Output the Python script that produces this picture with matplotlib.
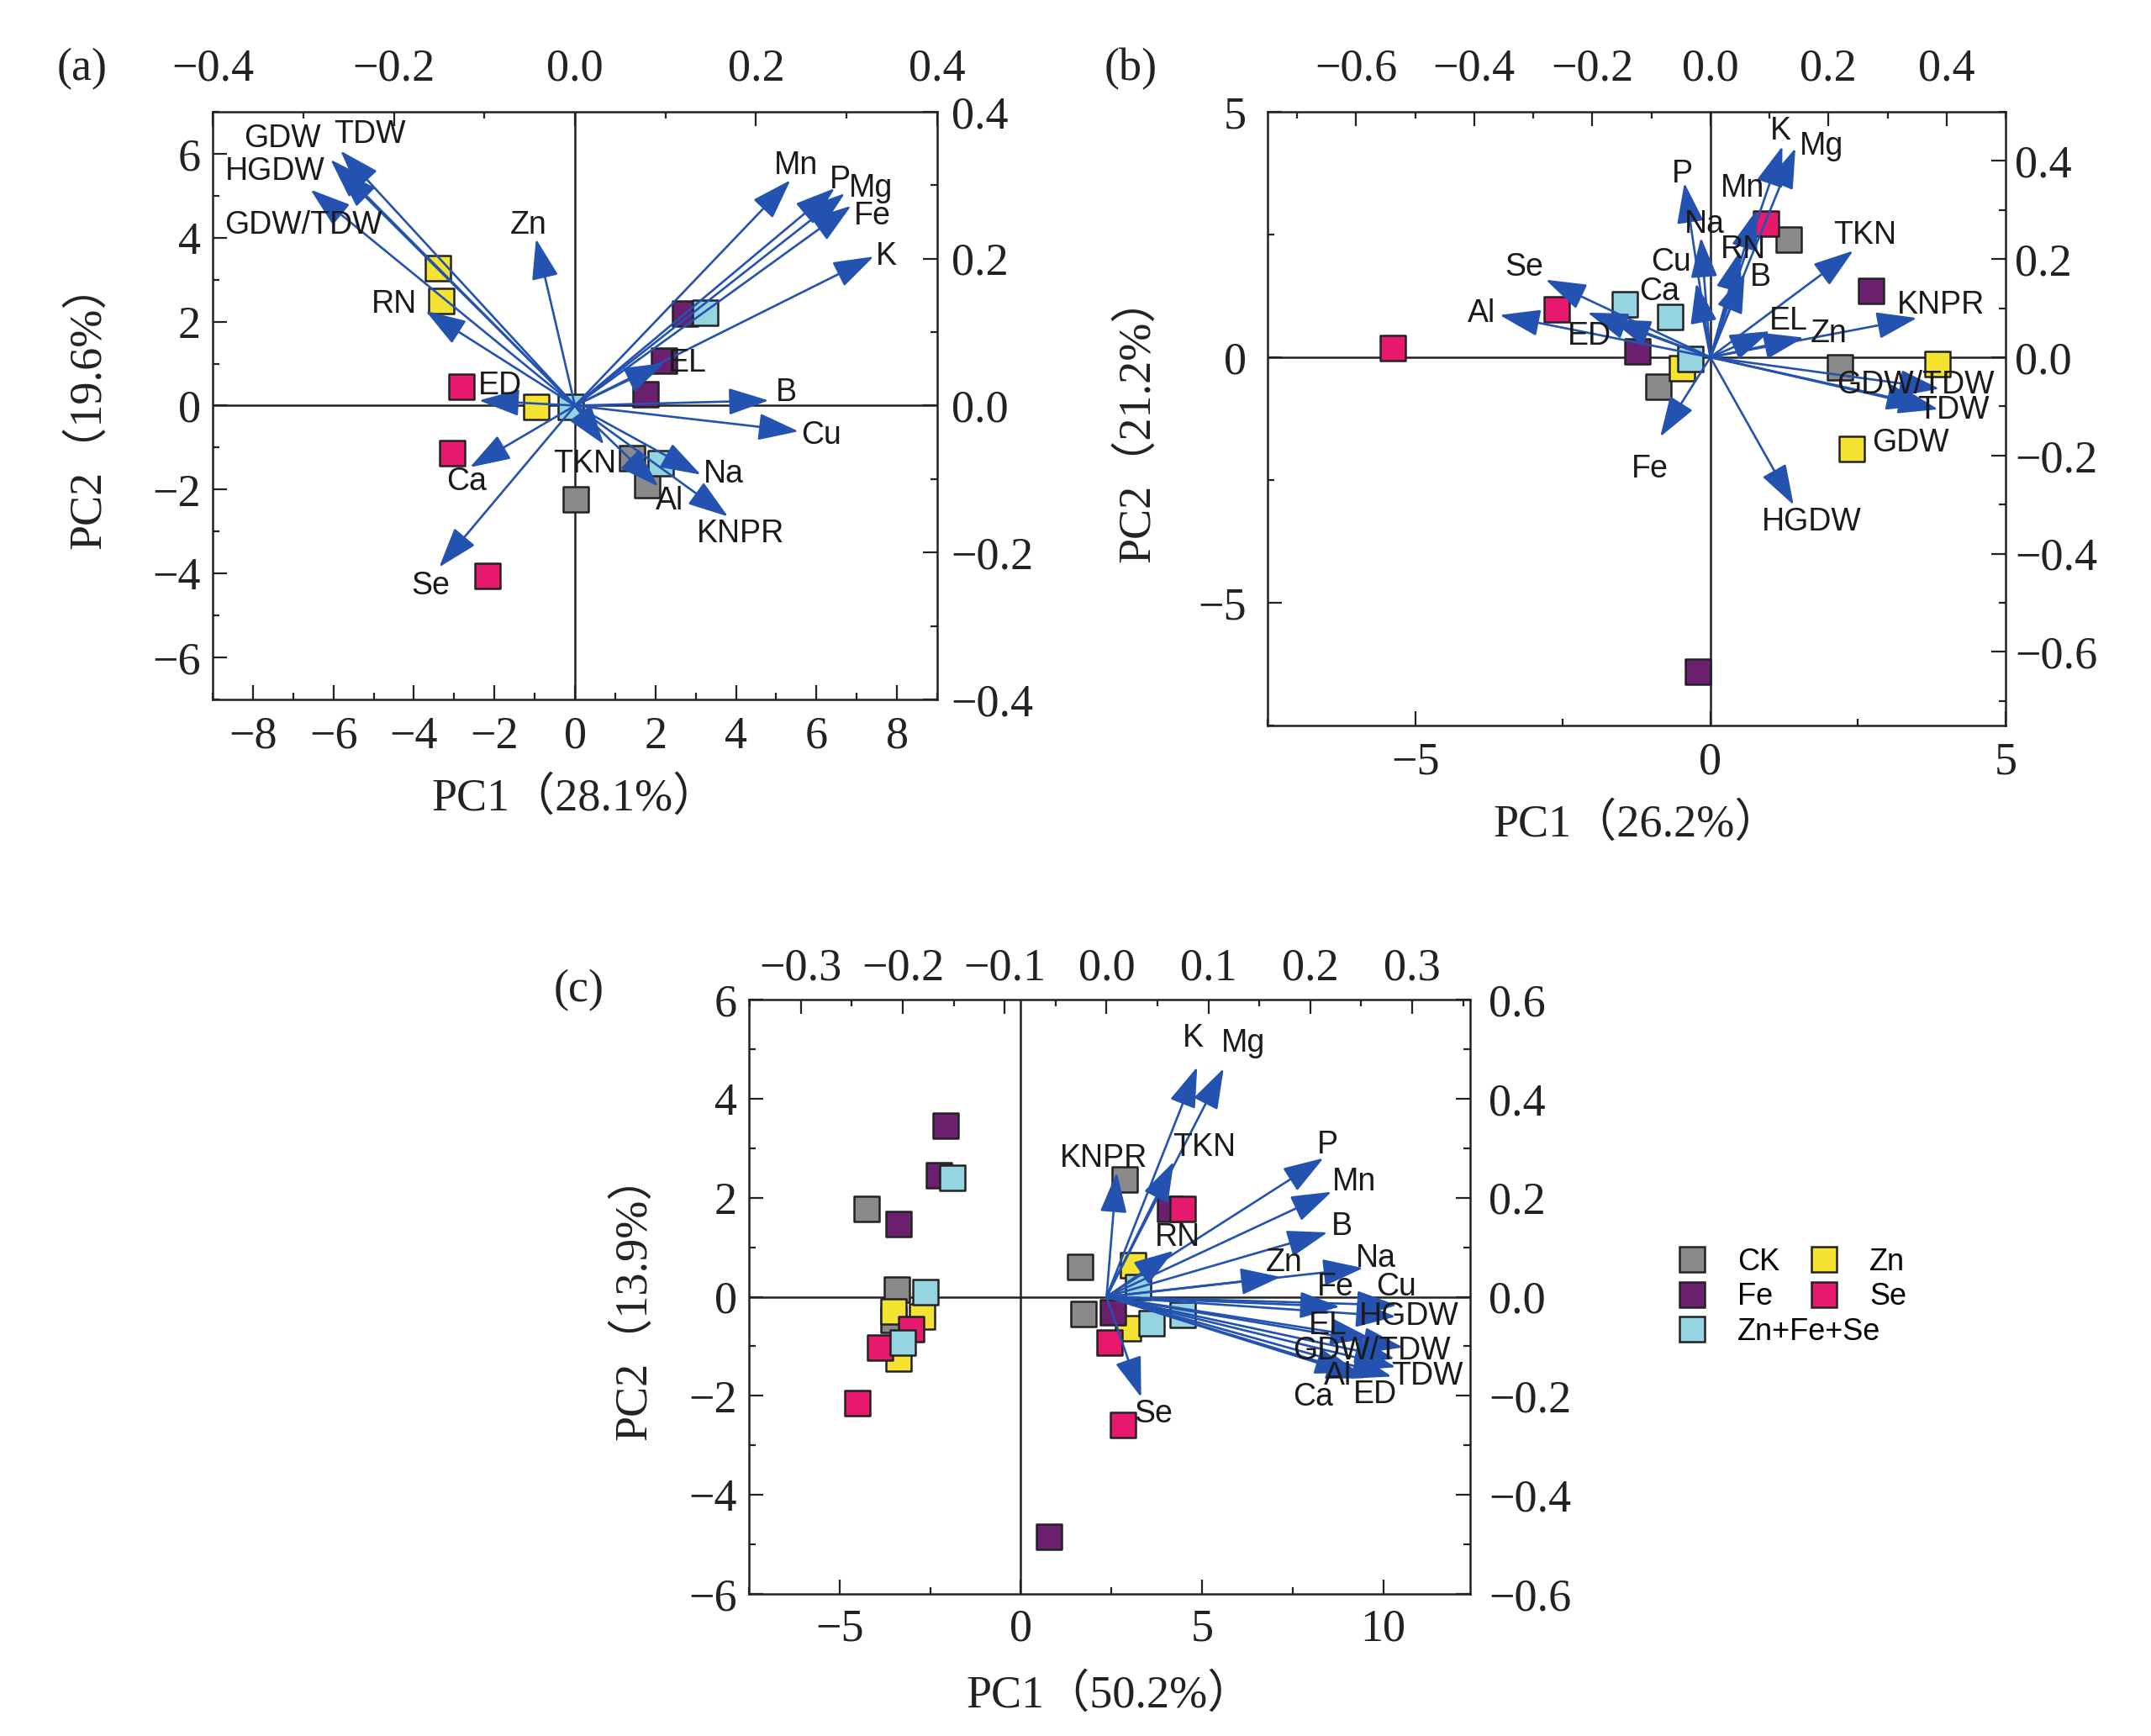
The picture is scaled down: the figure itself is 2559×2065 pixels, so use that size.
import matplotlib
matplotlib.use("Agg")
import matplotlib.pyplot as plt
from matplotlib.lines import Line2D
from matplotlib.ticker import FixedLocator, MultipleLocator, FuncFormatter

# ---- groups ----
groups = ["CK", "Fe", "Zn", "Se", "Zn+Fe+Se"]
colors = {"CK": "#8a8a8a", "Fe": "#6b1f6f", "Zn": "#f4e431",
          "Se": "#e8186f", "Zn+Fe+Se": "#93d4e0"}
draw_order = ["CK", "Zn", "Fe", "Se", "Zn+Fe+Se"]

# ---- panel (a) scores ----
a_x = {"CK": [1.41, 1.79, 0.02], "Fe": [2.74, 2.22, 1.75], "Zn": [-3.41, -3.33, -0.96],
       "Se": [-2.81, -3.04, -2.18], "Zn+Fe+Se": [3.24, -0.10, 2.14]}
a_y = {"CK": [-1.25, -1.89, -2.23], "Fe": [2.19, 1.07, 0.28], "Zn": [3.28, 2.50, -0.04],
       "Se": [0.46, -1.13, -4.06], "Zn+Fe+Se": [2.21, -0.04, -1.37]}

# ---- panel (a) loadings ----
a_vars = ["GDW", "TDW", "HGDW", "GDW/TDW", "Zn", "RN", "ED", "Ca", "Se", "TKN", "Al",
          "Na", "KNPR", "Cu", "B", "EL", "K", "Fe", "Mg", "P", "Mn"]
a_lx = [-0.270, -0.259, -0.262, -0.292, -0.043, -0.165, -0.106, -0.116, -0.150, 0.032, 0.092,
        0.139, 0.169, 0.247, 0.214, 0.099, 0.330, 0.305, 0.298, 0.287, 0.238]
a_ly = [0.335, 0.347, 0.322, 0.294, 0.227, 0.129, 0.007, -0.084, -0.220, -0.053, -0.110,
        -0.094, -0.151, -0.035, 0.007, 0.058, 0.203, 0.272, 0.289, 0.296, 0.307]
a_tx = [-0.323, -0.227, -0.331, -0.300, -0.051, -0.200, -0.083, -0.120, -0.159, 0.011, 0.104,
        0.164, 0.183, 0.272, 0.233, 0.124, 0.344, 0.328, 0.327, 0.293, 0.244]
a_ty = [0.363, 0.369, 0.319, 0.245, 0.245, 0.138, 0.027, -0.104, -0.245, -0.079, -0.130,
        -0.093, -0.174, -0.041, 0.018, 0.058, 0.203, 0.258, 0.296, 0.307, 0.327]

# ---- panel (b) scores ----
b_x = {"CK": [1.32, -0.88, 2.19], "Fe": [-1.24, 2.72, -0.21], "Zn": [-0.48, 3.85, 2.39],
       "Se": [-5.38, -2.60, 0.94], "Zn+Fe+Se": [-1.45, -0.68, -0.34]}
b_y = {"CK": [2.39, -0.60, -0.21], "Fe": [0.12, 1.36, -6.40], "Zn": [-0.22, -0.14, -1.86],
       "Se": [0.18, 0.98, 2.73], "Zn+Fe+Se": [1.07, 0.82, -0.03]}

# ---- panel (b) loadings ----
b_vars = ["K", "Mg", "P", "Mn", "RN", "B", "Na", "Cu", "Ca", "Se", "Al", "ED", "TKN",
          "KNPR", "EL", "Zn", "GDW/TDW", "TDW", "GDW", "HGDW", "Fe"]
b_lx = [0.122, 0.144, -0.044, 0.078, 0.050, 0.058, -0.016, -0.024, -0.169, -0.279, -0.357,
        -0.208, 0.242, 0.350, 0.101, 0.158, 0.388, 0.386, 0.366, 0.141, -0.085]
b_ly = [0.430, 0.426, 0.355, 0.300, 0.216, 0.172, 0.244, 0.151, 0.077, 0.158, 0.086,
        0.091, 0.217, 0.080, 0.053, 0.040, -0.064, -0.106, -0.098, -0.301, -0.162]
b_tx = [0.119, 0.188, -0.048, 0.055, 0.055, 0.085, -0.010, -0.067, -0.087, -0.316, -0.388,
        -0.205, 0.262, 0.390, 0.132, 0.200, 0.347, 0.411, 0.339, 0.172, -0.102]
b_ty = [0.460, 0.430, 0.373, 0.344, 0.220, 0.163, 0.270, 0.194, 0.134, 0.184, 0.089,
        0.043, 0.249, 0.106, 0.074, 0.048, -0.057, -0.108, -0.175, -0.335, -0.227]

# ---- panel (c) scores ----
c_x = {"CK": [-4.26, -3.43, -3.52, 2.87, 1.64, 1.74],
       "Fe": [-2.08, -2.27, -3.38, 4.12, 2.55, 0.78],
       "Zn": [-3.52, -2.73, -3.38, 3.10, 2.96],
       "Se": [-3.03, -3.89, -4.51, 4.47, 2.45, 2.82],
       "Zn+Fe+Se": [-1.90, -2.62, -3.26, 3.24, 3.61, 4.47]}
c_y = {"CK": [1.78, 0.14, -0.46, 2.37, 0.61, -0.34],
       "Fe": [3.46, 2.46, 1.47, 1.78, -0.31, -4.85],
       "Zn": [-0.29, -0.39, -1.25, 0.63, -0.63],
       "Se": [-0.66, -1.03, -2.14, 1.78, -0.93, -2.58],
       "Zn+Fe+Se": [2.41, 0.10, -0.92, 0.20, -0.54, -0.36]}

# ---- panel (c) loadings ----
c_vars = ["K", "Mg", "KNPR", "TKN", "P", "Mn", "B", "RN", "Zn", "Na", "Fe", "Cu", "HGDW",
          "EL", "GDW/TDW", "GDW", "TDW", "Ca", "Al", "ED", "Se"]
c_lx = [0.089, 0.115, 0.010, 0.066, 0.213, 0.221, 0.217, 0.066, 0.171, 0.252, 0.229, 0.285,
        0.284, 0.259, 0.291, 0.283, 0.284, 0.244, 0.255, 0.280, 0.034]
c_ly = [0.464, 0.461, 0.251, 0.273, 0.280, 0.212, 0.130, 0.093, 0.040, 0.058, -0.020, -0.017,
        -0.040, -0.083, -0.102, -0.125, -0.142, -0.153, -0.164, -0.161, -0.203]
c_tx = [0.085, 0.134, -0.003, 0.096, 0.217, 0.243, 0.231, 0.070, 0.174, 0.264, 0.225, 0.284,
        0.297, 0.217, 0.260, None, 0.315, 0.203, 0.227, 0.264, 0.046]
c_ty = [0.522, 0.512, 0.280, 0.302, 0.307, 0.232, 0.142, 0.119, 0.068, 0.078, 0.019, 0.019,
        -0.040, -0.058, -0.110, None, -0.161, -0.202, -0.161, -0.198, -0.237]

BLUE = "#2352b0"
SERIF = ["Liberation Serif", "Noto Sans CJK SC", "DejaVu Serif"]
SANS = ["Liberation Sans", "DejaVu Sans"]
TICK_FS = 39
VAR_FS = 27


def fmt(v, p):
    s = "%.1f" % v
    if s == "-0.0":
        s = "0.0"
    return s.replace("-", "\u2212")


def fmt_int(v, p):
    return ("%g" % v).replace("-", "\u2212")


def panel(fig, rect, sx, sy, vars_, lx, ly, tx, ty, xlim, ylim, llim_x, llim_y,
          xmaj, xmin, ymaj, ymin, lxmaj, lxmin, lymaj, lymin,
          xlabel, ylabel, tag, tagpos, pads):
    ax = fig.add_axes(rect)
    for g in draw_order:
        ax.scatter(sx[g], sy[g], marker="s", s=450, c=colors[g], edgecolors="#222222",
                   linewidths=1.8, zorder=3)
    ax.axhline(0, color="#222222", lw=1.8, zorder=2)
    ax.axvline(0, color="#222222", lw=1.8, zorder=2)
    ax.set_xlim(xlim)
    ax.set_ylim(ylim)
    ax.xaxis.set_major_locator(FixedLocator(xmaj))
    ax.xaxis.set_minor_locator(MultipleLocator(xmin))
    ax.yaxis.set_major_locator(FixedLocator(ymaj))
    ax.yaxis.set_minor_locator(MultipleLocator(ymin))
    ax.xaxis.set_major_formatter(FuncFormatter(fmt_int))
    ax.yaxis.set_major_formatter(FuncFormatter(fmt_int))
    for s in ax.spines.values():
        s.set_linewidth(1.8)
        s.set_color("#222222")
    ax.tick_params(which="both", direction="in", width=1.6, colors="#222222")
    ax.tick_params(which="major", length=12)
    ax.tick_params(which="minor", length=6)
    ax.tick_params(axis="x", pad=pads[0])
    ax.tick_params(axis="y", pad=pads[1])
    for t in ax.get_xticklabels() + ax.get_yticklabels():
        t.set_fontfamily(SERIF)
        t.set_fontsize(TICK_FS)
    ax.set_xlabel(xlabel, fontsize=TICK_FS, family=SERIF, labelpad=pads[4], color="#222222")
    ax.set_ylabel(ylabel, fontsize=TICK_FS, family=SERIF, labelpad=pads[5], color="#222222")

    # loading axes (top / right)
    al = fig.add_axes(rect, frameon=False)
    al.set_xlim(llim_x)
    al.set_ylim(llim_y)
    al.xaxis.tick_top()
    al.yaxis.tick_right()
    al.xaxis.set_major_locator(FixedLocator(lxmaj))
    al.xaxis.set_minor_locator(MultipleLocator(lxmin))
    al.yaxis.set_major_locator(FixedLocator(lymaj))
    al.yaxis.set_minor_locator(MultipleLocator(lymin))
    al.xaxis.set_major_formatter(FuncFormatter(fmt))
    al.yaxis.set_major_formatter(FuncFormatter(fmt))
    al.tick_params(which="both", direction="in", width=1.6, colors="#222222")
    al.tick_params(which="major", length=12)
    al.tick_params(which="minor", length=6)
    al.tick_params(axis="x", pad=pads[2])
    al.tick_params(axis="y", pad=pads[3])
    for t in al.get_xticklabels() + al.get_yticklabels():
        t.set_fontfamily(SERIF)
        t.set_fontsize(TICK_FS)

    for i, v in enumerate(vars_):
        al.annotate("", xy=(lx[i], ly[i]), xytext=(0, 0),
                    arrowprops=dict(arrowstyle="-|>,head_length=1.2,head_width=0.4",
                                    mutation_scale=25, color=BLUE, lw=1.9,
                                    shrinkA=0, shrinkB=0), zorder=4)
    for i, v in enumerate(vars_):
        if tx[i] is None:
            continue
        al.text(tx[i], ty[i], v, fontsize=VAR_FS, family=SANS, color="#1a1a1a",
                ha="center", va="center", zorder=5, clip_on=False)

    fig.text(tagpos[0], tagpos[1], tag, fontsize=TICK_FS, family=SERIF,
             ha="center", va="center", color="#222222")
    return ax, al


fig = plt.figure(figsize=(25.59, 20.65), dpi=100)
fig.patch.set_facecolor("white")

panel(fig, [0.0989, 0.5971, 0.3368, 0.3385], a_x, a_y, a_vars, a_lx, a_ly, a_tx, a_ty,
      (-9, 9), (-7, 7), (-0.4, 0.4), (-0.4, 0.4),
      [-8, -6, -4, -2, 0, 2, 4, 6, 8], 1, [-6, -4, -2, 0, 2, 4, 6], 1,
      [-0.4, -0.2, 0.0, 0.2, 0.4], 0.1, [-0.4, -0.2, 0.0, 0.2, 0.4], 0.1,
      "PC1（28.1%）", "PC2（19.6%）", "(a)", (98 / 2559, 1 - 82 / 2065),
      (14, 10, 18, 12, 16, 36))

panel(fig, [0.5893, 0.5821, 0.3431, 0.3535], b_x, b_y, b_vars, b_lx, b_ly, b_tx, b_ty,
      (-7.5, 5), (-7.5, 5), (-0.75, 0.5), (-0.75, 0.5),
      [-5, 0, 5], 2.5, [-5, 0, 5], 2.5,
      [-0.6, -0.4, -0.2, 0.0, 0.2, 0.4], 0.1, [-0.6, -0.4, -0.2, 0.0, 0.2, 0.4], 0.1,
      "PC1（26.2%）", "PC2（21.2%）", "(b)", (1345 / 2559, 1 - 82 / 2065),
      (14, 18, 18, 8, 16, 33))

panel(fig, [0.3482, 0.0818, 0.3353, 0.3424], c_x, c_y, c_vars, c_lx, c_ly, c_tx, c_ty,
      (-7.5, 12.4), (-6, 6), (-0.351, 0.357), (-0.6, 0.6),
      [-5, 0, 5, 10], 2.5, [-6, -4, -2, 0, 2, 4, 6], 1,
      [-0.3, -0.2, -0.1, 0.0, 0.1, 0.2, 0.3], 0.05, [-0.6, -0.4, -0.2, 0.0, 0.2, 0.4, 0.6], 0.1,
      "PC1（50.2%）", "PC2（13.9%）", "(c)", (689 / 2559, 1 - 1178 / 2065),
      (12, 10, 8, 16, 20, 28))

# legend in two columns
def handle(g):
    return Line2D([], [], marker="s", ls="none", markersize=22, markerfacecolor=colors[g],
                  markeredgecolor="#222222", markeredgewidth=1.8)

col1 = ["CK", "Fe", "Zn+Fe+Se"]
col2 = ["Zn", "Se"]
leg_kw = dict(frameon=False, handlelength=1.0, handletextpad=1.0,
              labelspacing=0.18, borderpad=0, borderaxespad=0, loc="upper left",
              prop={"family": SANS, "size": 26})
fig.legend([handle(g) for g in col1], col1, bbox_to_anchor=(1995 / 2559, 1 - 1484 / 2065), **leg_kw)
fig.legend([handle(g) for g in col2], col2, bbox_to_anchor=(2152 / 2559, 1 - 1484 / 2065), **leg_kw)

fig.savefig("out.png", dpi=100, facecolor="white")
